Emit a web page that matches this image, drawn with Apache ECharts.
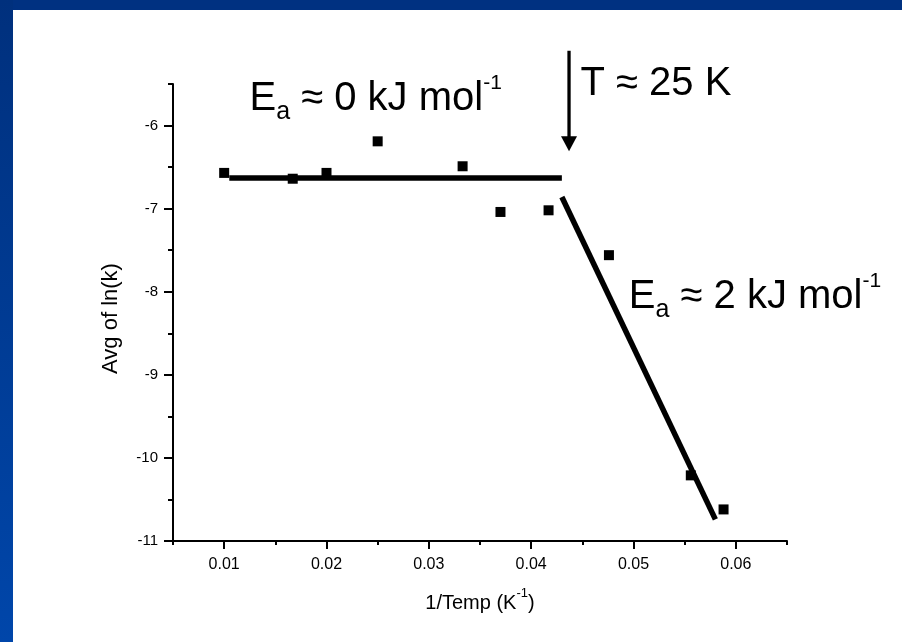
<!DOCTYPE html>
<html>
<head>
<meta charset="utf-8">
<script src="https://cdn.jsdelivr.net/npm/echarts@6/dist/echarts.min.js"></script>
<style>
  html, body { margin: 0; padding: 0; background: #ffffff; }
  #chart { width: 902px; height: 642px; }
</style>
</head>
<body>
<div id="chart"></div>
<script>
// Arrhenius data: mean ln(k) against inverse temperature
const invTemp = [0.0100, 0.0167, 0.0200, 0.0250, 0.0333, 0.0370, 0.0417, 0.0476, 0.0556, 0.0588];
const avgLnK  = [-6.57, -6.64, -6.57, -6.19, -6.49, -7.04, -7.02, -7.56, -10.21, -10.62];

// Linear fits for the two regimes
const lowFitX  = [0.0105, 0.0430];
const lowFitY  = [-6.63, -6.63];
const highFitX = [0.0430, 0.0580];
const highFitY = [-6.86, -10.74];

// Crossover arrow (shaft top, arrow head centre)
const arrowX = [0.0437, 0.0437];
const arrowY = [-5.10, -6.22];

// Axis ranges and tick positions
const xRange = [0.005, 0.065];
const yRange = [-11, -5.5];
const xMajorTicks = [0.01, 0.02, 0.03, 0.04, 0.05, 0.06];
const xMinorTicks = [0.005, 0.015, 0.025, 0.035, 0.045, 0.055, 0.065];
const yMajorTicks = [-11, -10, -9, -8, -7, -6];
const yMinorTicks = [-10.5, -9.5, -8.5, -7.5, -6.5, -5.5];

const FONT = "'Liberation Sans', Arial, Helvetica, sans-serif";
const zip = (xs, ys) => xs.map((x, i) => [x, ys[i]]);

const chart = echarts.init(document.getElementById('chart'), null, { renderer: 'canvas' });

const gridBox = { left: 173, top: 84, right: 115, bottom: 101 };
const axisLineStyle = { color: '#000', width: 2 };
const tickStyle = { color: '#000', width: 2 };

// Rich styles for the activation-energy annotations (subscript a, superscript -1)
const energyRich = {
  m: { fontSize: 40, lineHeight: 52, fontFamily: FONT, fill: '#000' },
  b: { fontSize: 25, lineHeight: 25, verticalAlign: 'bottom', fontFamily: FONT, fill: '#000' },
  p: { fontSize: 21, lineHeight: 32, verticalAlign: 'top', fontFamily: FONT, fill: '#000' }
};

const option = {
  backgroundColor: '#ffffff',
  animation: false,
  grid: [
    Object.assign({}, gridBox),
    Object.assign({}, gridBox)
  ],
  xAxis: [
    {
      type: 'value', gridIndex: 0, position: 'bottom',
      min: xRange[0], max: xRange[1],
      axisLine: { show: true, onZero: false, lineStyle: axisLineStyle },
      axisTick: { show: true, customValues: xMajorTicks, length: 8, lineStyle: tickStyle },
      axisLabel: { show: true, customValues: xMajorTicks, margin: 16, fontSize: 16, color: '#000', fontFamily: FONT },
      splitLine: { show: false },
      name: '{n|1/Temp (K}{s|-1}{n|)}',
      nameLocation: 'middle',
      nameGap: 46,
      nameTextStyle: {
        color: '#000', fontFamily: FONT,
        rich: {
          n: { fontSize: 20, lineHeight: 32, color: '#000', fontFamily: FONT },
          s: { fontSize: 13, lineHeight: 13, verticalAlign: 'top', color: '#000', fontFamily: FONT }
        }
      }
    },
    {
      type: 'value', gridIndex: 1, position: 'bottom',
      min: xRange[0], max: xRange[1],
      axisLine: { show: false },
      axisTick: { show: true, customValues: xMinorTicks, length: 4, lineStyle: tickStyle },
      axisLabel: { show: false },
      splitLine: { show: false }
    }
  ],
  yAxis: [
    {
      type: 'value', gridIndex: 0, position: 'left',
      min: yRange[0], max: yRange[1],
      axisLine: { show: true, onZero: false, lineStyle: axisLineStyle },
      axisTick: { show: true, customValues: yMajorTicks, length: 9, lineStyle: tickStyle },
      axisLabel: { show: true, customValues: yMajorTicks, margin: 15, fontSize: 15, color: '#000', fontFamily: FONT },
      splitLine: { show: false },
      name: 'Avg of ln(k)',
      nameLocation: 'middle',
      nameGap: 51,
      nameTextStyle: { fontSize: 22, color: '#000', fontFamily: FONT, padding: [0, 12, 0, 0] }
    },
    {
      type: 'value', gridIndex: 1, position: 'left',
      min: yRange[0], max: yRange[1],
      axisLine: { show: false },
      axisTick: { show: true, customValues: yMinorTicks, length: 5, lineStyle: tickStyle },
      axisLabel: { show: false },
      splitLine: { show: false }
    }
  ],
  series: [
    {
      name: 'low-T fit', type: 'line', xAxisIndex: 0, yAxisIndex: 0,
      data: zip(lowFitX, lowFitY),
      symbol: 'none', silent: true,
      lineStyle: { color: '#000', width: 5.5 }
    },
    {
      name: 'high-T fit', type: 'line', xAxisIndex: 0, yAxisIndex: 0,
      data: zip(highFitX, highFitY),
      symbol: 'none', silent: true,
      lineStyle: { color: '#000', width: 5.5 }
    },
    {
      name: 'Avg of ln(k)', type: 'scatter', xAxisIndex: 0, yAxisIndex: 0,
      data: zip(invTemp, avgLnK),
      symbol: 'rect', symbolSize: 10, z: 5,
      itemStyle: { color: '#000', opacity: 1 }
    },
    {
      name: 'crossover shaft', type: 'line', xAxisIndex: 0, yAxisIndex: 0,
      data: zip(arrowX, arrowY),
      symbol: 'none', clip: false, silent: true,
      lineStyle: { color: '#000', width: 3.3 }
    },
    {
      name: 'crossover head', type: 'scatter', xAxisIndex: 0, yAxisIndex: 0,
      data: [[arrowX[1], arrowY[1]]],
      symbol: 'triangle', symbolRotate: 180, symbolSize: [16, 15],
      clip: false, silent: true,
      itemStyle: { color: '#000', opacity: 1 }
    }
  ],
  graphic: [
    {
      type: 'rect', x: 0, y: 0, silent: true,
      shape: { width: 902, height: 10 },
      style: { fill: '#003181' }
    },
    {
      type: 'rect', x: 0, y: 0, silent: true,
      shape: { width: 13, height: 642 },
      style: {
        fill: new echarts.graphic.LinearGradient(0, 0, 0, 1, [
          { offset: 0, color: '#00307d' },
          { offset: 1, color: '#0046aa' }
        ])
      }
    },
    {
      type: 'text', x: 249.5, y: 72.8, silent: true,
      style: {
        text: '{m|E}{b|a}{m| \u2248 0 kJ mol}{p|-1}',
        align: 'left', verticalAlign: 'top', fill: '#000',
        rich: energyRich
      }
    },
    {
      type: 'text', x: 628.8, y: 270.5, silent: true,
      style: {
        text: '{m|E}{b|a}{m| \u2248 2 kJ mol}{p|-1}',
        align: 'left', verticalAlign: 'top', fill: '#000',
        rich: energyRich
      }
    },
    {
      type: 'text', x: 580.5, y: 63.5, silent: true,
      style: {
        text: 'T \u2248 25 K',
        align: 'left', verticalAlign: 'top', fill: '#000',
        fontSize: 40, lineHeight: 40, fontFamily: FONT
      }
    }
  ]
};

chart.setOption(option);
</script>
</body>
</html>
